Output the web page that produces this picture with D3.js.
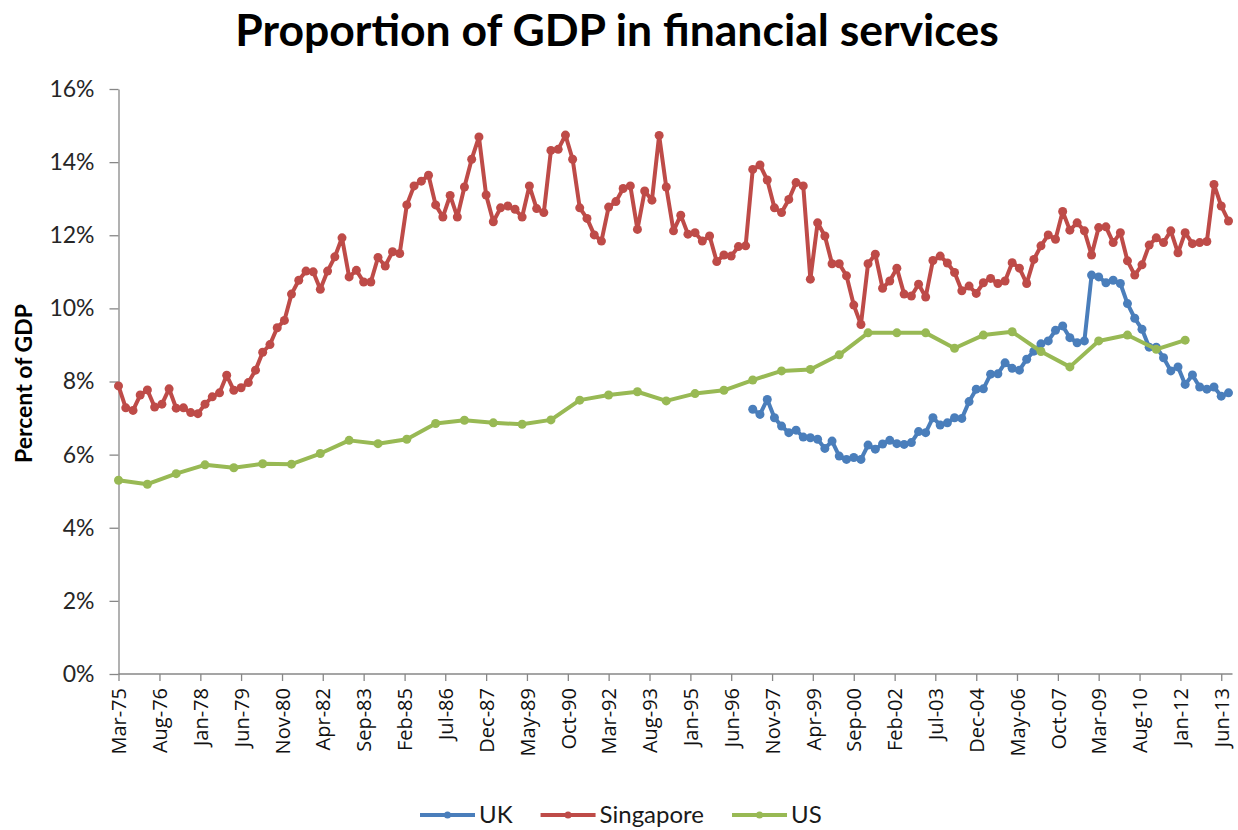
<!DOCTYPE html>
<html>
<head>
<meta charset="utf-8">
<script src="https://cdn.jsdelivr.net/npm/d3@7"></script>
<style>
  body { margin: 0; background: #ffffff; }
  svg { display: block; }
</style>
</head>
<body>
<svg id="chart" width="1238" height="830"></svg>
<script>
// ---- Data -----------------------------------------------------------------
// Share of GDP from financial services, in percent.

// Singapore: quarterly, first observation March 1975
const singaporeStart = [1975, 2];
const singapore = [
  7.88, 7.28, 7.21, 7.63, 7.77, 7.30, 7.38, 7.80, 7.27, 7.28,
  7.15, 7.12, 7.38, 7.58, 7.69, 8.17, 7.76, 7.83, 7.97, 8.31,
  8.80, 9.01, 9.47, 9.67, 10.39, 10.77, 11.02, 11.00, 10.52, 11.02,
  11.41, 11.93, 10.86, 11.04, 10.72, 10.72, 11.39, 11.16, 11.55, 11.50,
  12.83, 13.35, 13.48, 13.64, 12.83, 12.50, 13.09, 12.50, 13.32, 14.08,
  14.69, 13.10, 12.37, 12.75, 12.80, 12.71, 12.50, 13.35, 12.73, 12.62,
  14.32, 14.35, 14.74, 14.08, 12.75, 12.46, 12.01, 11.84, 12.77, 12.92,
  13.28, 13.35, 12.16, 13.21, 12.96, 14.73, 13.32, 12.12, 12.55, 12.03,
  12.07, 11.84, 11.98, 11.28, 11.46, 11.43, 11.69, 11.71, 13.80, 13.92,
  13.51, 12.75, 12.62, 12.98, 13.44, 13.35, 10.80, 12.34, 11.98, 11.22,
  11.22, 10.89, 10.09, 9.56, 11.22, 11.48, 10.55, 10.75, 11.10, 10.39,
  10.34, 10.66, 10.31, 11.31, 11.43, 11.24, 10.98, 10.48, 10.61, 10.41,
  10.70, 10.82, 10.68, 10.75, 11.25, 11.10, 10.68, 11.34, 11.71, 12.01,
  11.89, 12.65, 12.14, 12.34, 12.12, 11.46, 12.21, 12.23, 11.80, 12.07,
  11.30, 10.91, 11.19, 11.73, 11.93, 11.80, 12.12, 11.52, 12.07, 11.77,
  11.80, 11.83, 13.39, 12.80, 12.39
];

// UK: quarterly, first observation March 1997
const ukStart = [1997, 2];
const uk = [
  7.24, 7.10, 7.51, 7.01, 6.78, 6.60, 6.67, 6.48, 6.46, 6.42,
  6.17, 6.37, 5.96, 5.87, 5.92, 5.87, 6.26, 6.15, 6.29, 6.39,
  6.30, 6.28, 6.33, 6.63, 6.60, 7.01, 6.81, 6.87, 7.01, 6.99,
  7.45, 7.79, 7.80, 8.20, 8.21, 8.51, 8.36, 8.31, 8.61, 8.83,
  9.03, 9.11, 9.40, 9.52, 9.20, 9.06, 9.11, 10.91, 10.86, 10.70,
  10.77, 10.68, 10.13, 9.73, 9.43, 8.94, 8.94, 8.65, 8.29, 8.40,
  7.92, 8.18, 7.85, 7.79, 7.85, 7.60, 7.69
];

// US: annual, 1975 to 2012
const usYears = d3.range(1975, 2013);
const us = [
  5.30, 5.19, 5.48, 5.72, 5.64, 5.75, 5.74, 6.03, 6.39, 6.30,
  6.42, 6.85, 6.94, 6.87, 6.83, 6.95, 7.49, 7.63, 7.72, 7.47,
  7.67, 7.76, 8.04, 8.29, 8.33, 8.73, 9.33, 9.33, 9.33, 8.91,
  9.27, 9.36, 8.82, 8.40, 9.11, 9.27, 8.88, 9.13
];

const yTickValues = [0, 2, 4, 6, 8, 10, 12, 14, 16];
const xTickStepMonths = 17;
const seriesNames = ["UK", "Singapore", "US"];
const seriesColors = ["#4A7EBB", "#BE4B48", "#98B954"];

// ---- Build dated series ---------------------------------------------------
const quarterly = (start, values) =>
  values.map((v, i) => ({ date: new Date(start[0], start[1] + 3 * i, 1), value: v }));

const series = [
  { name: seriesNames[0], color: seriesColors[0], points: quarterly(ukStart, uk) },
  { name: seriesNames[1], color: seriesColors[1], points: quarterly(singaporeStart, singapore) },
  { name: seriesNames[2], color: seriesColors[2],
    points: us.map((v, i) => ({ date: new Date(usYears[i], 2, 1), value: v })) }
];

// ---- Scales ---------------------------------------------------------------
const svg = d3.select("#chart");
const plot = { left: 118.5, right: 1228.5, top: 89, bottom: 674 };

const firstDate = new Date(singaporeStart[0], singaporeStart[1], 1);
const lastDate = new Date(2013, 8, 1);

const x = d3.scaleTime().domain([firstDate, lastDate]).range([plot.left, plot.right]);
const y = d3.scaleLinear().domain([0, 16]).range([plot.bottom, plot.top]);

const xTickDates = [];
for (let d = firstDate; d <= lastDate; d = d3.timeMonth.offset(d, xTickStepMonths)) xTickDates.push(d);

const axisColor = "#878787";

// ---- Title ----------------------------------------------------------------
svg.append("text")
  .attr("x", 617).attr("y", 46)
  .attr("text-anchor", "middle")
  .style("font-family", "Lato, 'Open Sans', sans-serif")
  .style("font-weight", "700")
  .style("font-size", "44.5px")
  .style("fill", "#000")
  .text("Proportion of GDP in financial services");

// ---- Axes -----------------------------------------------------------------
const yAxis = svg.append("g")
  .attr("transform", `translate(${plot.left},0)`)
  .call(d3.axisLeft(y).tickValues(yTickValues).tickFormat(d => d + "%")
    .tickSize(9).tickSizeOuter(0).tickPadding(15));
yAxis.selectAll("text")
  .style("font-family", "Lato, 'Open Sans', sans-serif")
  .style("font-size", "23px")
  .style("fill", "#262626");

const xAxis = svg.append("g")
  .attr("transform", `translate(0,${plot.bottom})`)
  .call(d3.axisBottom(x).tickValues(xTickDates).tickFormat(d3.timeFormat("%b-%y"))
    .tickSize(7).tickSizeOuter(0));
xAxis.selectAll("text")
  .attr("transform", "rotate(-90)")
  .attr("text-anchor", "end")
  .attr("x", -14)
  .attr("y", 0)
  .attr("dy", "0.36em")
  .style("font-family", "'Open Sans', Lato, sans-serif")
  .style("font-size", "20px")
  .style("fill", "#111");

// extend the horizontal axis line slightly past the last quarter
xAxis.select(".domain").attr("d", `M${plot.left},0H${plot.right + 4}`);

svg.selectAll(".domain, .tick line")
  .attr("stroke", axisColor)
  .attr("stroke-width", 1.3);

// Y-axis title
svg.append("text")
  .attr("transform", `translate(32,${(plot.top + plot.bottom) / 2 + 2}) rotate(-90)`)
  .attr("text-anchor", "middle")
  .style("font-family", "Lato, 'Open Sans', sans-serif")
  .style("font-weight", "700")
  .style("font-size", "23px")
  .style("fill", "#000")
  .text("Percent of GDP");

// ---- Series ---------------------------------------------------------------
const line = d3.line().x(d => x(d.date)).y(d => y(d.value));

const layer = svg.append("g");
series.forEach(s => {
  const g = layer.append("g");
  g.append("path")
    .datum(s.points)
    .attr("d", line)
    .attr("fill", "none")
    .attr("stroke", s.color)
    .attr("stroke-width", 4)
    .attr("stroke-linejoin", "round")
    .attr("stroke-linecap", "round");
  g.selectAll("circle")
    .data(s.points)
    .join("circle")
    .attr("cx", d => x(d.date))
    .attr("cy", d => y(d.value))
    .attr("r", 4.5)
    .attr("fill", s.color);
});

// ---- Legend ---------------------------------------------------------------
const legend = svg.append("g").attr("transform", "translate(420,815)");
let lx = 0;
series.forEach(s => {
  const item = legend.append("g").attr("transform", `translate(${lx},0)`);
  item.append("line")
    .attr("x1", 0).attr("x2", 55).attr("y1", 0).attr("y2", 0)
    .attr("stroke", s.color).attr("stroke-width", 4);
  item.append("circle").attr("cx", 27.5).attr("cy", 0).attr("r", 3.5).attr("fill", s.color);
  const t = item.append("text")
    .attr("x", 59).attr("y", 0).attr("dy", "0.35em")
    .style("font-family", "Lato, 'Open Sans', sans-serif")
    .style("font-size", "24px")
    .style("fill", "#1a1a1a")
    .text(s.name);
  lx += 59 + t.node().getComputedTextLength() + 28;
});
</script>
</body>
</html>
